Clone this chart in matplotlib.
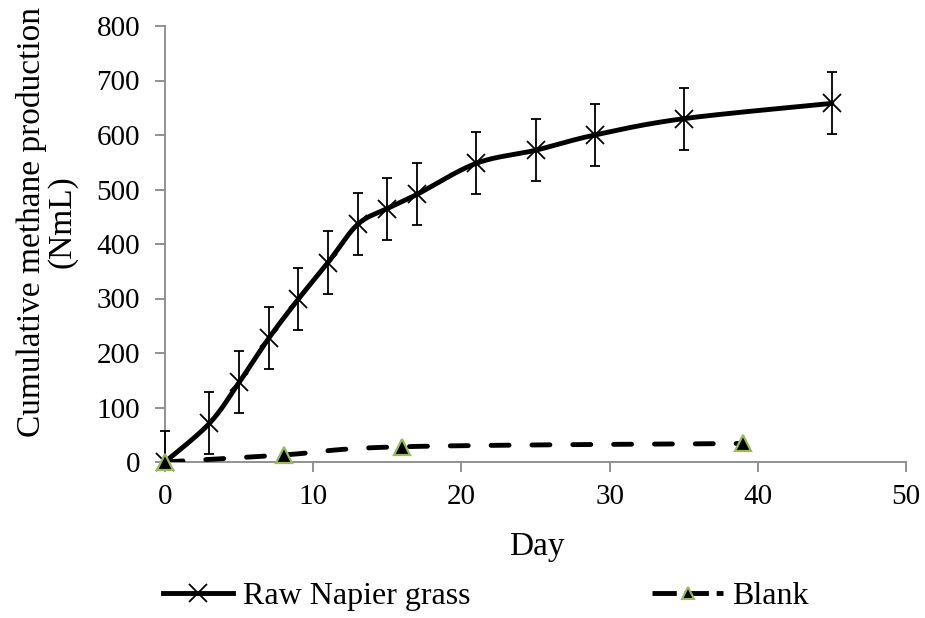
import numpy as np
import matplotlib
matplotlib.use("Agg")
from matplotlib import pyplot as plt

plt.rcParams['font.family'] = ['Liberation Serif', 'DejaVu Serif']

# data
raw_day = [0, 3, 5, 7, 9, 11, 13, 15, 17, 21, 25, 29, 35, 45]
raw_ch4 = [0, 71, 146, 227, 299, 366, 436, 465, 491, 548, 572, 600, 630, 658]
raw_err = [57, 57, 57, 57, 57, 57, 57, 57, 57, 57, 57, 57, 57, 57]

blank_day = [0, 8, 16, 39]
blank_ch4 = [0, 13, 28, 34]

def smooth(x, y, n=30):
    # Catmull-Rom curve through the points (like Excel's smoothed line)
    x = np.asarray(x, float); y = np.asarray(y, float)
    px = np.concatenate([[x[0]], x, [x[-1]]])
    py = np.concatenate([[y[0]], y, [y[-1]]])
    xs, ys = [], []
    t = np.linspace(0, 1, n)
    for i in range(1, len(px)-2):
        p0, p1, p2, p3 = [np.array([px[j], py[j]]) for j in range(i-1, i+3)]
        m1 = (p2 - p0) / 2
        m2 = (p3 - p1) / 2
        h00 = 2*t**3 - 3*t**2 + 1
        h10 = t**3 - 2*t**2 + t
        h01 = -2*t**3 + 3*t**2
        h11 = t**3 - t**2
        seg = np.outer(h00, p1) + np.outer(h10, m1) + np.outer(h01, p2) + np.outer(h11, m2)
        xs.extend(seg[:, 0]); ys.extend(seg[:, 1])
    return np.array(xs), np.array(ys)

fig = plt.figure(figsize=(9.25, 6.18), dpi=100)
ax = fig.add_axes([165/925, 1-462/618, (906-165)/925, (462-26)/618])

grey = '#898989'
green = '#9BBB59'
lw = 3.5

sx, sy = smooth(raw_day, raw_ch4)
ax.plot(sx, sy, color='black', lw=lw, solid_capstyle='round', zorder=3)
low_err = np.minimum(raw_err, raw_ch4)
ax.errorbar(raw_day, raw_ch4, yerr=[low_err, raw_err], fmt='none', ecolor='black',
            elinewidth=1.3, capsize=3.8, capthick=1.3, zorder=3, clip_on=False)
ax.plot(raw_day, raw_ch4, ls='none', marker='x', ms=13, mew=1.3,
        color='black', zorder=4, clip_on=False)

bx, by = smooth(blank_day, blank_ch4)
ax.plot(bx, by, color='black', lw=lw, ls=(0, (3.7, 4.7)), dash_capstyle='round', zorder=3)
ax.plot(blank_day, blank_ch4, ls='none', marker='^', ms=11.5, mew=1.6,
        mfc='black', mec=green, zorder=5, clip_on=False)

ax.set_xlim(0, 50)
ax.set_ylim(0, 800)
ax.set_xticks(range(0, 51, 10))
ax.set_yticks(range(0, 801, 100))
for s in ['top', 'right']:
    ax.spines[s].set_visible(False)
for s in ['left', 'bottom']:
    ax.spines[s].set_color(grey)
    ax.spines[s].set_linewidth(1.3)
ax.tick_params(direction='out', length=7, width=1.3, color=grey, labelsize=21)
ax.tick_params(axis='y', pad=11)
ax.tick_params(axis='x', pad=9)

fig.text(46.5/925, 1-222/618, 'Cumulative methane production\n(NmL)', fontsize=24,
         rotation=90, ha='center', va='center', multialignment='center',
         linespacing=1.0)
fig.text(537/925, 1-547/618, 'Day', fontsize=24, ha='center', va='center')

h1, = ax.plot([], [], color='black', lw=lw, marker='x', ms=13, mew=1.3)
h2, = ax.plot([], [], color='black', lw=lw, ls=(0, (5, 1.6)), marker='^',
              ms=9, mfc='black', mec=green, mew=1.5)
fig.legend([h1, h2], ['Raw Napier grass', 'Blank'], loc='center left',
           bbox_to_anchor=(163/925, 1-596/618), ncol=2, frameon=False, fontsize=23,
           borderpad=0, borderaxespad=0,
           handlelength=2.2, handletextpad=0.3, columnspacing=5.7)

fig.savefig('out.png', dpi=100)
